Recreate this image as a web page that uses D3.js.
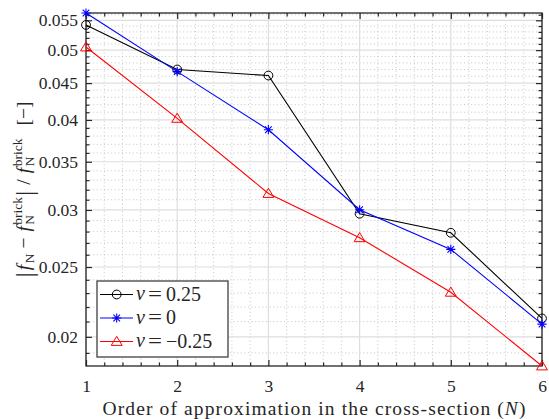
<!DOCTYPE html>
<html><head><meta charset="utf-8">
<script src="https://cdn.jsdelivr.net/npm/d3@7"></script>
<style>
body{margin:0;background:#fff;}
text{font-family:"Liberation Serif","Times New Roman",serif;fill:#262626;}
</style></head>
<body><svg id="c" width="549" height="419"></svg>
<script>
const N = [1, 2, 3, 4, 5, 6];
const nuPos = [0.0542, 0.0470, 0.0461, 0.02964, 0.02789, 0.02121];
const nuZero = [0.0563, 0.04668, 0.03877, 0.03002, 0.02645, 0.02083];
const nuNeg = [0.0505, 0.0402, 0.03162, 0.02745, 0.02306, 0.01822];
const seriesNames = ["0.25", "0", "\u22120.25"];
const seriesColors = ["#000000", "#0000ff", "#ff0000"];
const seriesMarkers = ["circle", "star", "triangle"];
const yTickLabels = ["0.02", "0.025", "0.03", "0.035", "0.04", "0.045", "0.05", "0.055"];
const xTickLabels = ["1", "2", "3", "4", "5", "6"];

const series = [nuPos, nuZero, nuNeg];
const svg = d3.select("#c");
const L = 86, R = 542, T = 13, B = 366;
const allVals = series.flat();
const x = d3.scaleLinear().domain([1, 6]).range([L, R]);
const y = d3.scaleLog().domain(d3.extent(allVals)).range([B, T]);
const [ymin, ymax] = y.domain();

const yMajor = yTickLabels.map(Number);
const yMinor = d3.range(19, 57).map(d => d / 1000).filter(v => v >= ymin && v <= ymax && !yMajor.some(m => Math.abs(m - v) < 1e-9));
const xMajor = xTickLabels.map(Number);
const xMinor = d3.range(1, 6.001, 0.2).map(v => +v.toFixed(2)).filter(v => !xMajor.some(m => Math.abs(m - v) < 1e-9));

const grid = svg.append("g");
grid.selectAll(".ymg").data(yMinor).join("line")
  .attr("x1", L).attr("x2", R).attr("y1", d => y(d)).attr("y2", d => y(d))
  .attr("stroke", "#b8b8b8").attr("stroke-width", 0.8).attr("stroke-dasharray", "1,2.6");
grid.selectAll(".xmg").data(xMinor).join("line")
  .attr("y1", T).attr("y2", B).attr("x1", d => x(d)).attr("x2", d => x(d))
  .attr("stroke", "#b8b8b8").attr("stroke-width", 0.8).attr("stroke-dasharray", "1,2.6");
grid.selectAll(".yMg").data(yMajor).join("line")
  .attr("x1", L).attr("x2", R).attr("y1", d => y(d)).attr("y2", d => y(d))
  .attr("stroke", "#dedede").attr("stroke-width", 1.2);
grid.selectAll(".xMg").data(xMajor).join("line")
  .attr("y1", T).attr("y2", B).attr("x1", d => x(d)).attr("x2", d => x(d))
  .attr("stroke", "#dedede").attr("stroke-width", 1.2);

const axC = "#262626";
const FONT = '"Liberation Serif", serif';
function styleAxis(g) {
  g.select(".domain").remove();
  g.selectAll("line").attr("stroke", axC).attr("stroke-width", 1.2);
}
svg.append("g").attr("transform", `translate(0,${B})`)
  .call(d3.axisBottom(x).tickValues(xMajor).tickSize(-6).tickPadding(14).tickFormat((d, i) => xTickLabels[i]))
  .call(styleAxis).call(g => g.selectAll("text").attr("font-size", 17.5).attr("fill", axC).attr("font-family", FONT));
svg.append("g").attr("transform", `translate(0,${B})`)
  .call(d3.axisBottom(x).tickValues(xMinor).tickSize(-3.5).tickFormat(""))
  .call(styleAxis);
svg.append("g").attr("transform", `translate(0,${T})`)
  .call(d3.axisTop(x).tickValues(xMajor).tickSize(-6).tickFormat(""))
  .call(styleAxis);
svg.append("g").attr("transform", `translate(0,${T})`)
  .call(d3.axisTop(x).tickValues(xMinor).tickSize(-3.5).tickFormat(""))
  .call(styleAxis);
svg.append("g").attr("transform", `translate(${L},0)`)
  .call(d3.axisLeft(y).tickValues(yMajor).tickSize(-6).tickPadding(8).tickFormat((d, i) => yTickLabels[i]))
  .call(styleAxis).call(g => g.selectAll("text").attr("font-size", 17.5).attr("fill", axC).attr("font-family", FONT));
svg.append("g").attr("transform", `translate(${L},0)`)
  .call(d3.axisLeft(y).tickValues(yMinor).tickSize(-3.5).tickFormat(""))
  .call(styleAxis);
svg.append("g").attr("transform", `translate(${R},0)`)
  .call(d3.axisRight(y).tickValues(yMajor).tickSize(-6).tickFormat(""))
  .call(styleAxis);
svg.append("g").attr("transform", `translate(${R},0)`)
  .call(d3.axisRight(y).tickValues(yMinor).tickSize(-3.5).tickFormat(""))
  .call(styleAxis);
svg.append("rect").attr("x", L).attr("y", T).attr("width", R - L).attr("height", B - T)
  .attr("fill", "none").attr("stroke", axC).attr("stroke-width", 1.3);

function drawMarker(g, type, color, cx, cy) {
  if (type === "circle") {
    g.append("circle").attr("cx", cx).attr("cy", cy).attr("r", 4.4).attr("fill", "none").attr("stroke", color).attr("stroke-width", 1);
  } else if (type === "star") {
    const s = 4.6, d = s * 0.72;
    const p = `M${cx - s},${cy}L${cx + s},${cy}M${cx},${cy - s}L${cx},${cy + s}M${cx - d},${cy - d}L${cx + d},${cy + d}M${cx - d},${cy + d}L${cx + d},${cy - d}`;
    g.append("path").attr("d", p).attr("stroke", color).attr("stroke-width", 1.1).attr("fill", "none");
  } else {
    const s = 5.2;
    const p = `M${cx},${cy - s}L${cx + s * 1.05},${cy + s * 0.75}L${cx - s * 1.05},${cy + s * 0.75}Z`;
    g.append("path").attr("d", p).attr("stroke", color).attr("stroke-width", 1).attr("fill", "none");
  }
}
const line = d3.line().x((d, i) => x(N[i])).y(d => y(d));
series.forEach((s, k) => {
  const g = svg.append("g");
  g.append("path").attr("d", line(s)).attr("fill", "none").attr("stroke", seriesColors[k]).attr("stroke-width", 1.1);
  s.forEach((v, i) => drawMarker(g, seriesMarkers[k], seriesColors[k], x(N[i]), y(v)));
});

// legend
const lg = svg.append("g");
lg.append("rect").attr("x", 97).attr("y", 281).attr("width", 131).attr("height", 76)
  .attr("fill", "#fff").attr("stroke", "#404040").attr("stroke-width", 1.3);
seriesNames.forEach((nm, k) => {
  const cy = 294.5 + k * 23.5;
  lg.append("line").attr("x1", 100).attr("x2", 133).attr("y1", cy).attr("y2", cy).attr("stroke", seriesColors[k]).attr("stroke-width", 1.1);
  drawMarker(lg, seriesMarkers[k], seriesColors[k], 116.7, cy);
  lg.append("text").attr("x", 136).attr("y", cy + 5.5).attr("font-size", 20).attr("font-style", "italic").attr("fill", "#000").text("\u03bd");
  lg.append("text").attr("x", 148).attr("y", cy + 6).attr("font-size", 20).attr("fill", "#000")
    .attr("textLength", 14).attr("lengthAdjust", "spacingAndGlyphs").text("=");
  lg.append("text").attr("x", 166).attr("y", cy + 6).attr("font-size", 20).attr("fill", "#000").text(nm);
});

// x label
svg.append("text").attr("x", (L + R) / 2).attr("y", 415).attr("text-anchor", "middle")
  .attr("font-size", 19.5).attr("fill", "#262626").attr("textLength", 423).attr("lengthAdjust", "spacing")
  .html('Order of approximation in the cross-section (<tspan font-style="italic">N</tspan>)');

// y label (rotated, manual layout)
const ylOuter = svg.append("g").attr("transform", `translate(30,${(T + B) / 2}) rotate(-90)`);
const yl = ylOuter.append("g");
let cx = 0;
const MF = 19.5, SF = 13.5;
function piece(str, opt = {}) {
  const t = yl.append("text").attr("x", cx).attr("y", opt.dy || 0)
    .attr("font-size", opt.size || MF).attr("font-style", opt.italic ? "italic" : "normal")
    .attr("fill", "#262626").text(str);
  return t.node().getComputedTextLength();
}
function fNbrick() {
  cx += piece("f", { italic: true }) + 1.5;
  const w1 = piece("brick", { size: SF, dy: -8 });
  const w2 = piece("N", { size: SF, dy: 4 });
  cx += Math.max(w1, w2) + 1;
}
cx += piece("|", { size: 26, dy: 3 }) + 2;
cx += piece("f", { italic: true }) + 1.5;
cx += piece("N", { size: SF, dy: 4 }) + 5;
cx += piece("\u2212") + 6;
fNbrick();
cx += piece("|", { size: 26, dy: 3 }) + 6;
cx += piece("/") + 6;
fNbrick();
cx += 12;
cx += piece("[\u2212]");
yl.attr("transform", `translate(${-cx / 2},0)`);
</script></body></html>
